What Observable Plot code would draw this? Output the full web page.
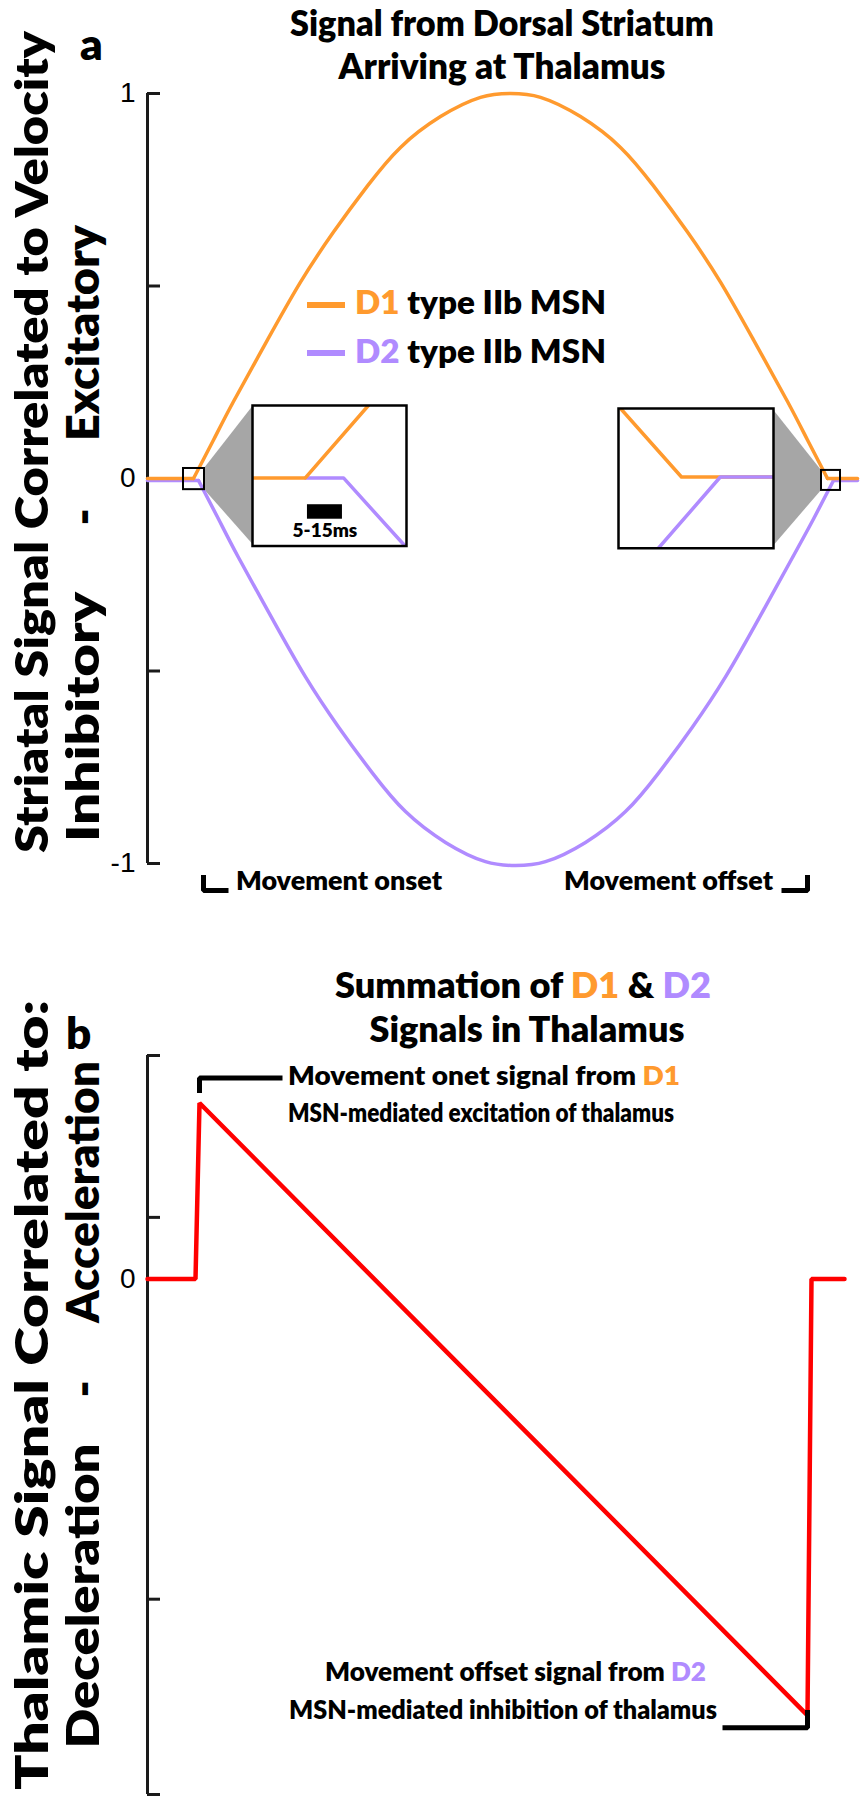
<!DOCTYPE html>
<html>
<head>
<meta charset="utf-8">
<script src="https://cdn.jsdelivr.net/npm/d3@7"></script>
<script src="https://cdn.jsdelivr.net/npm/@observablehq/plot@0.6"></script>
<style>
  html, body { margin: 0; padding: 0; background: #fff; }
  #fig { position: relative; width: 860px; height: 1800px; overflow: hidden; background: #fff; }
  #fig > svg { position: absolute; }
</style>
</head>
<body>
<div id="fig"></div>
<script>
// ================= DATA =================
const timeDomain = [0, 710];

// ---- Panel a: striatal signal (normalised) ----
const aTicks = [1, 0.5, 0, -0.5, -1];
const aTickLabelValues = [1, 0, -1];
const aTickLabels = ["1", "0", "-1"];

const d1FlatStart = [0, 46];
const d1FlatEnd = [680, 710];
const d1Time = [46, 66, 86, 120, 153, 186, 220, 253, 293, 333, 363, 393, 433, 473, 506, 540, 573, 606, 640, 660, 680];
const d1Value = [0, 0.10, 0.20, 0.36, 0.51, 0.64, 0.76, 0.86, 0.94, 0.99, 1.00, 0.99, 0.94, 0.86, 0.76, 0.64, 0.51, 0.36, 0.20, 0.10, 0];

const d2FlatStart = [0, 51];
const d2FlatEnd = [686, 710];
const d2Time = [51, 71, 91, 125, 158, 191, 225, 258, 298, 338, 368, 398, 438, 478, 511, 545, 578, 611, 645, 666, 686];
const d2Value = [0, -0.10, -0.20, -0.36, -0.51, -0.64, -0.76, -0.86, -0.94, -0.99, -1.00, -0.99, -0.94, -0.86, -0.76, -0.64, -0.51, -0.36, -0.20, -0.10, 0];

// zoom windows on the main trace and the boxes holding their enlargements
const zoomWindowT = [[36, 57], [674, 693]];
const zoomWindowV = [[-0.029, 0.026], [-0.031, 0.021]];
const insetBoxT = [[105, 259], [471, 626]];
const insetBoxV = [[-0.175, 0.19], [-0.18, 0.183]];
const connectorInnerV = [[-0.170, 0.186], [-0.176, 0.178]];

// enlarged onset (ms)
const onsetMsDomain = [0, 44];
const onsetVDomain = [-0.94, 1];
const onsetD1Ms = [0, 15.1, 33.1];
const onsetD1V = [0, 0, 1];
const onsetD2Ms = [15.1, 26.0, 43.4];
const onsetD2V = [0, 0, -0.93];
const scaleBarMs = [15.7, 25.7];
const scaleBarV = [-0.57, -0.37];
const scaleBarLabelV = -0.82;
const scaleBarLabel = "5-15ms";

// enlarged offset (ms)
const offsetMsDomain = [0, 44.3];
const offsetVDomain = [-1.04, 1];
const offsetD1Ms = [0.6, 18, 44.3];
const offsetD1V = [1, 0, 0];
const offsetD2Ms = [11.4, 29.1, 44.3];
const offsetD2V = [-1.04, 0, 0];

// movement brackets (panel a)
const onsetBracketT = [56, 56, 81];
const onsetBracketV = [-1.030, -1.070, -1.070];
const offsetBracketT = [634, 660, 660];
const offsetBracketV = [-1.070, -1.070, -1.030];

// ---- Panel b: thalamic summed signal ----
const bAxisRange = [-2.93, 1.27];
const bTicks = [1.27, 0.35, -1.82, -2.93];
const bTime = [0, 48, 52, 660, 664, 697];
const bValue = [0, 0, 1.0, -2.48, 0, 0];
const bOnsetBracketT = [52, 52, 135];
const bOnsetBracketV = [1.057, 1.142, 1.142];
const bOffsetBracketT = [575, 660, 660];
const bOffsetBracketV = [-2.55, -2.55, -2.45];

// ================= STYLE =================
const ORANGE = "#ff9a2e", PURPLE = "#b08bff", RED = "#ff0000", GRAY = "#a6a6a6", INK = "#1a1a1a";
const FONT = "Lato, 'Open Sans', sans-serif";
const NUMFONT = "'Liberation Sans', Arial, sans-serif";
const HEAVY = 800;

const zip = (ts, vs) => ts.map((t, i) => ({t, v: vs[i]}));
const fig = document.getElementById("fig");

// ================= PANEL A =================
const connectors = insetBoxT.map((b, i) => [
  {t: zoomWindowT[i][i === 0 ? 1 : 0], lo: zoomWindowV[i][0], hi: zoomWindowV[i][1]},
  {t: b[i === 0 ? 0 : 1], lo: connectorInnerV[i][0], hi: connectorInnerV[i][1]}
].sort((a, b) => a.t - b.t));

const flatRows = (a, b) => [...zip(a, [0, 0]).map(d => ({...d, s: 0})), ...zip(b, [0, 0]).map(d => ({...d, s: 1}))];

const plotA = Plot.plot({
  width: 860, height: 940,
  marginLeft: 147, marginRight: 3, marginTop: 93, marginBottom: 77,
  x: {domain: timeDomain, axis: null},
  y: {domain: [-1, 1], axis: null},
  style: {background: "transparent", overflow: "visible"},
  marks: [
    Plot.areaY(connectors[0], {x: "t", y1: "lo", y2: "hi", fill: GRAY}),
    Plot.areaY(connectors[1], {x: "t", y1: "lo", y2: "hi", fill: GRAY}),
    Plot.ruleX([0], {y1: -1, y2: 1, stroke: INK, strokeWidth: 3}),
    Plot.ruleY(aTicks, {y: d => d, x1: 0, x2: 13, stroke: INK, strokeWidth: 3}),
    Plot.text(aTickLabelValues, {x: 0, y: d => d, text: (d, i) => aTickLabels[i], textAnchor: "end", dx: -12,
      fontSize: 28, fontFamily: NUMFONT, fill: "black"}),
    // D2 (purple) first, orange on top
    Plot.line(flatRows(d2FlatStart, d2FlatEnd), {x: "t", y: "v", z: "s", stroke: PURPLE, strokeWidth: 3.5, dy: 2}),
    Plot.line(zip(d2Time, d2Value), {x: "t", y: "v", stroke: PURPLE, strokeWidth: 3.5, curve: "natural", dy: 2}),
    Plot.line(flatRows(d1FlatStart, d1FlatEnd), {x: "t", y: "v", z: "s", stroke: ORANGE, strokeWidth: 3.5}),
    Plot.line(zip(d1Time, d1Value), {x: "t", y: "v", stroke: ORANGE, strokeWidth: 3.5, curve: "natural"}),
    Plot.rect(zoomWindowT.map((t, i) => ({t0: t[0], t1: t[1], v0: zoomWindowV[i][0], v1: zoomWindowV[i][1]})),
      {x1: "t0", x2: "t1", y1: "v0", y2: "v1", fill: "none", stroke: "black", strokeWidth: 2}),
    Plot.line(zip(onsetBracketT, onsetBracketV), {x: "t", y: "v", stroke: "black", strokeWidth: 5,
      strokeLinejoin: "miter", strokeLinecap: "butt"}),
    Plot.line(zip(offsetBracketT, offsetBracketV), {x: "t", y: "v", stroke: "black", strokeWidth: 5,
      strokeLinejoin: "miter", strokeLinecap: "butt"})
  ]
});
plotA.style.left = "0px"; plotA.style.top = "0px";
fig.append(plotA);

// insets
const xA = plotA.scale("x"), yA = plotA.scale("y");
function makeInset(i, msDomain, vDomain, layers) {
  const left = xA.apply(insetBoxT[i][0]), right = xA.apply(insetBoxT[i][1]);
  const top = yA.apply(insetBoxV[i][1]), bottom = yA.apply(insetBoxV[i][0]);
  const p = Plot.plot({
    width: right - left, height: bottom - top, margin: 0,
    x: {domain: msDomain, axis: null}, y: {domain: vDomain, axis: null},
    style: {background: "transparent", overflow: "visible"},
    marks: [Plot.frame({fill: "white"}), ...layers, Plot.frame({stroke: "black", strokeWidth: 2.5})]
  });
  p.style.left = left + "px"; p.style.top = top + "px";
  fig.append(p);
}
makeInset(0, onsetMsDomain, onsetVDomain, [
  Plot.line(zip(onsetD2Ms, onsetD2V), {x: "t", y: "v", stroke: PURPLE, strokeWidth: 3.5, clip: true}),
  Plot.line(zip(onsetD1Ms, onsetD1V), {x: "t", y: "v", stroke: ORANGE, strokeWidth: 3.5, clip: true}),
  Plot.rect([0], {x1: scaleBarMs[0], x2: scaleBarMs[1], y1: scaleBarV[0], y2: scaleBarV[1], fill: "black"}),
  Plot.text([scaleBarLabel], {x: (scaleBarMs[0] + scaleBarMs[1]) / 2, y: scaleBarLabelV, text: d => d,
    lineAnchor: "bottom", fontSize: 19, fontWeight: HEAVY, fontFamily: FONT, fill: "black"})
]);
makeInset(1, offsetMsDomain, offsetVDomain, [
  Plot.line(zip(offsetD1Ms, offsetD1V), {x: "t", y: "v", stroke: ORANGE, strokeWidth: 3.5, clip: true}),
  Plot.line(zip(offsetD2Ms, offsetD2V), {x: "t", y: "v", stroke: PURPLE, strokeWidth: 3.5, clip: true})
]);

// ================= PANEL B =================
const plotB = Plot.plot({
  width: 860, height: 860,
  marginLeft: 147, marginRight: 3, marginTop: 115, marginBottom: 6,
  x: {domain: timeDomain, axis: null},
  y: {domain: bAxisRange, axis: null},
  style: {background: "transparent", overflow: "visible"},
  marks: [
    Plot.ruleX([0], {y1: bAxisRange[0], y2: bAxisRange[1], stroke: INK, strokeWidth: 3}),
    Plot.ruleY(bTicks, {y: d => d, x1: 0, x2: 13, stroke: INK, strokeWidth: 3}),
    Plot.text([0], {x: 0, y: 0, text: () => "0", textAnchor: "end", dx: -12, fontSize: 28, fontFamily: NUMFONT, fill: "black"}),
    Plot.line(zip(bTime, bValue), {x: "t", y: "v", stroke: RED, strokeWidth: 4.5, strokeLinejoin: "miter"}),
    Plot.line(zip(bOnsetBracketT, bOnsetBracketV), {x: "t", y: "v", stroke: "black", strokeWidth: 5,
      strokeLinejoin: "miter", strokeLinecap: "butt"}),
    Plot.line(zip(bOffsetBracketT, bOffsetBracketV), {x: "t", y: "v", stroke: "black", strokeWidth: 5,
      strokeLinejoin: "miter", strokeLinecap: "butt"})
  ]
});
plotB.style.left = "0px"; plotB.style.top = "940px";
fig.append(plotB);

// ================= TEXT OVERLAY =================
const overlay = d3.create("svg").attr("width", 860).attr("height", 1800)
  .style("left", "0px").style("top", "0px").style("pointer-events", "none");
fig.append(overlay.node());

// legend swatches
[[ORANGE, 305], [PURPLE, 353]].forEach(([c, y]) =>
  overlay.append("line").attr("x1", 307).attr("x2", 345).attr("y1", y).attr("y2", y)
    .attr("stroke", c).attr("stroke-width", 6));

const texts = [
  {parts: [["Signal from Dorsal Striatum"]], x: 502, y: 36, anchor: "middle", size: 36, len: 424},
  {parts: [["Arriving at Thalamus"]], x: 502, y: 79, anchor: "middle", size: 36, len: 327},
  {parts: [["a"]], x: 80, y: 60, size: 44},
  {parts: [["Striatal Signal Correlated to Velocity"]], x: 48, y: 442, anchor: "middle", size: 46, len: 822, rotate: true},
  {parts: [["Inhibitory"]], x: 99, y: 717, anchor: "middle", size: 46, len: 250, rotate: true},
  {parts: [["-"]], x: 99, y: 517, anchor: "middle", size: 46, rotate: true},
  {parts: [["Excitatory"]], x: 99, y: 333, anchor: "middle", size: 46, len: 216, rotate: true},
  {parts: [["D1", ORANGE], [" type IIb MSN"]], x: 355, y: 314, size: 32, len: 251},
  {parts: [["D2", PURPLE], [" type IIb MSN"]], x: 355, y: 363, size: 32, len: 251},
  {parts: [["Movement onset"]], x: 236, y: 890, size: 26, len: 206},
  {parts: [["Movement offset"]], x: 564, y: 890, size: 26, len: 209},

  {parts: [["Summation of "], ["D1", ORANGE], [" & "], ["D2", PURPLE]], x: 523, y: 998, anchor: "middle", size: 36, len: 376},
  {parts: [["Signals in Thalamus"]], x: 527, y: 1042, anchor: "middle", size: 36, len: 315},
  {parts: [["b"]], x: 66, y: 1049, size: 44},
  {parts: [["Thalamic Signal Correlated to:"]], x: 48, y: 1395, anchor: "middle", size: 46, len: 790, rotate: true},
  {parts: [["Deceleration"]], x: 99, y: 1596, anchor: "middle", size: 46, len: 305, rotate: true},
  {parts: [["-"]], x: 99, y: 1389, anchor: "middle", size: 46, rotate: true},
  {parts: [["Acceleration"]], x: 99, y: 1192, anchor: "middle", size: 46, len: 262, rotate: true},
  {parts: [["Movement onet signal from "], ["D1", ORANGE]], x: 288, y: 1085, size: 26, len: 392},
  {parts: [["MSN-mediated excitation of thalamus"]], x: 288, y: 1122, size: 26, len: 386},
  {parts: [["Movement offset signal from "], ["D2", PURPLE]], x: 325, y: 1681, size: 26, len: 381},
  {parts: [["MSN-mediated inhibition of thalamus"]], x: 289, y: 1719, size: 26, len: 428}
];

for (const it of texts) {
  const t = overlay.append("text")
    .attr("font-family", FONT).attr("font-weight", HEAVY).attr("font-size", it.size)
    .attr("text-anchor", it.anchor || "start").attr("fill", "#000")
    .style("white-space", "pre");
  for (const [s, c] of it.parts) t.append("tspan").attr("fill", c || "#000").text(s);
  if (it.len) t.attr("textLength", it.len).attr("lengthAdjust", "spacingAndGlyphs");
  t.attr("transform", `translate(${it.x},${it.y})${it.rotate ? " rotate(-90)" : ""}`);
}
</script>
</body>
</html>
